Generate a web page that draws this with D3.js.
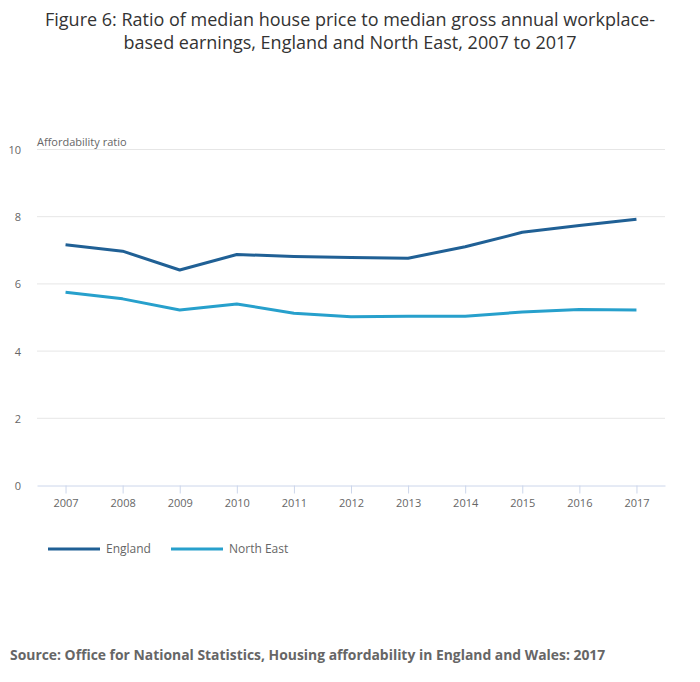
<!DOCTYPE html>
<html>
<head>
<meta charset="utf-8">
<script src="https://cdn.jsdelivr.net/npm/d3@7"></script>
<style>
  body { margin: 0; background: #fff; }
  text { font-family: "Open Sans", sans-serif; }
</style>
</head>
<body>
<script>
// data
var years = ["2007", "2008", "2009", "2010", "2011", "2012", "2013", "2014", "2015", "2016", "2017"];
var england = [7.15, 6.96, 6.40, 6.86, 6.80, 6.77, 6.75, 7.09, 7.52, 7.72, 7.91];
var northEast = [5.74, 5.54, 5.21, 5.39, 5.11, 5.01, 5.02, 5.02, 5.15, 5.22, 5.21];
var seriesNames = ["England", "North East"];
var yTicks = [0, 2, 4, 6, 8, 10];

var width = 700, height = 682;
var plot = {left: 37, right: 665, top: 149, bottom: 485};
var colors = ["#206095", "#27a0cc"];

var svg = d3.select("body").append("svg")
    .attr("width", width)
    .attr("height", height);

/* title, two lines centred */
var title = svg.append("text")
    .attr("text-anchor", "middle")
    .attr("fill", "#333")
    .style("font-size", "18px");
title.append("tspan").attr("x", 350).attr("y", 26)
    .text("Figure 6: Ratio of median house price to median gross annual workplace-");
title.append("tspan").attr("x", 350).attr("y", 49)
    .text("based earnings, England and North East, 2007 to 2017");

var xScale = d3.scalePoint()
    .domain(years)
    .range([plot.left, plot.right])
    .padding(0.5);

var yScale = d3.scaleLinear()
    .domain([0, 10])
    .range([plot.bottom, plot.top]);

/* gridlines */
svg.append("g")
    .selectAll("line")
    .data(yTicks.filter(function(d) { return d > 0; }))
    .enter()
    .append("line")
    .attr("x1", plot.left)
    .attr("x2", plot.right)
    .attr("y1", function(d) { return yScale(d) + 0.5; })
    .attr("y2", function(d) { return yScale(d) + 0.5; })
    .attr("stroke", "#e6e6e6");

/* y axis labels */
var yAxis = d3.axisLeft(yScale).tickValues(yTicks).tickSize(0).tickPadding(0);
var gy = svg.append("g")
    .attr("transform", "translate(21,1)")
    .call(yAxis);
gy.select(".domain").remove();
gy.selectAll("text")
    .attr("fill", "#666")
    .style("font-size", "11px")
    .style("font-family", "'Open Sans', sans-serif");

svg.append("text")
    .attr("x", plot.left)
    .attr("y", 146)
    .attr("fill", "#666")
    .style("font-size", "11px")
    .text("Affordability ratio");

/* x axis */
var xAxis = d3.axisBottom(xScale).tickSize(8).tickPadding(6).tickSizeOuter(0);
var gx = svg.append("g")
    .attr("transform", "translate(0," + (plot.bottom + 0.5) + ")")
    .call(xAxis);
gx.select(".domain").attr("stroke", "#ccd6eb");
gx.selectAll(".tick line").attr("stroke", "#ccd6eb");
gx.selectAll("text")
    .attr("fill", "#666")
    .style("font-size", "11px")
    .style("font-family", "'Open Sans', sans-serif");

/* lines */
var line = d3.line()
    .x(function(d, i) { return xScale(years[i]); })
    .y(function(d) { return yScale(d); });

[england, northEast].forEach(function(s, i) {
    svg.append("path")
        .datum(s)
        .attr("d", line)
        .attr("fill", "none")
        .attr("stroke", colors[i])
        .attr("stroke-width", 3)
        .attr("stroke-linejoin", "round");
});

/* legend */
var legendX = [48, 171];
var legend = svg.selectAll(".legend")
    .data(seriesNames)
    .enter()
    .append("g")
    .attr("class", "legend")
    .attr("transform", function(d, i) { return "translate(" + legendX[i] + ",549)"; });

legend.append("line")
    .attr("x1", 0).attr("x2", 52)
    .attr("stroke", function(d, i) { return colors[i]; })
    .attr("stroke-width", 3);

legend.append("text")
    .attr("x", 58)
    .attr("dy", "0.35em")
    .attr("fill", "#666")
    .style("font-size", "12px")
    .text(function(d) { return d; });

/* source */
svg.append("text")
    .attr("x", 10)
    .attr("y", 660)
    .attr("fill", "#666")
    .style("font-size", "13.9px")
    .style("font-weight", "bold")
    .text("Source: Office for National Statistics, Housing affordability in England and Wales: 2017");
</script>
</body>
</html>
